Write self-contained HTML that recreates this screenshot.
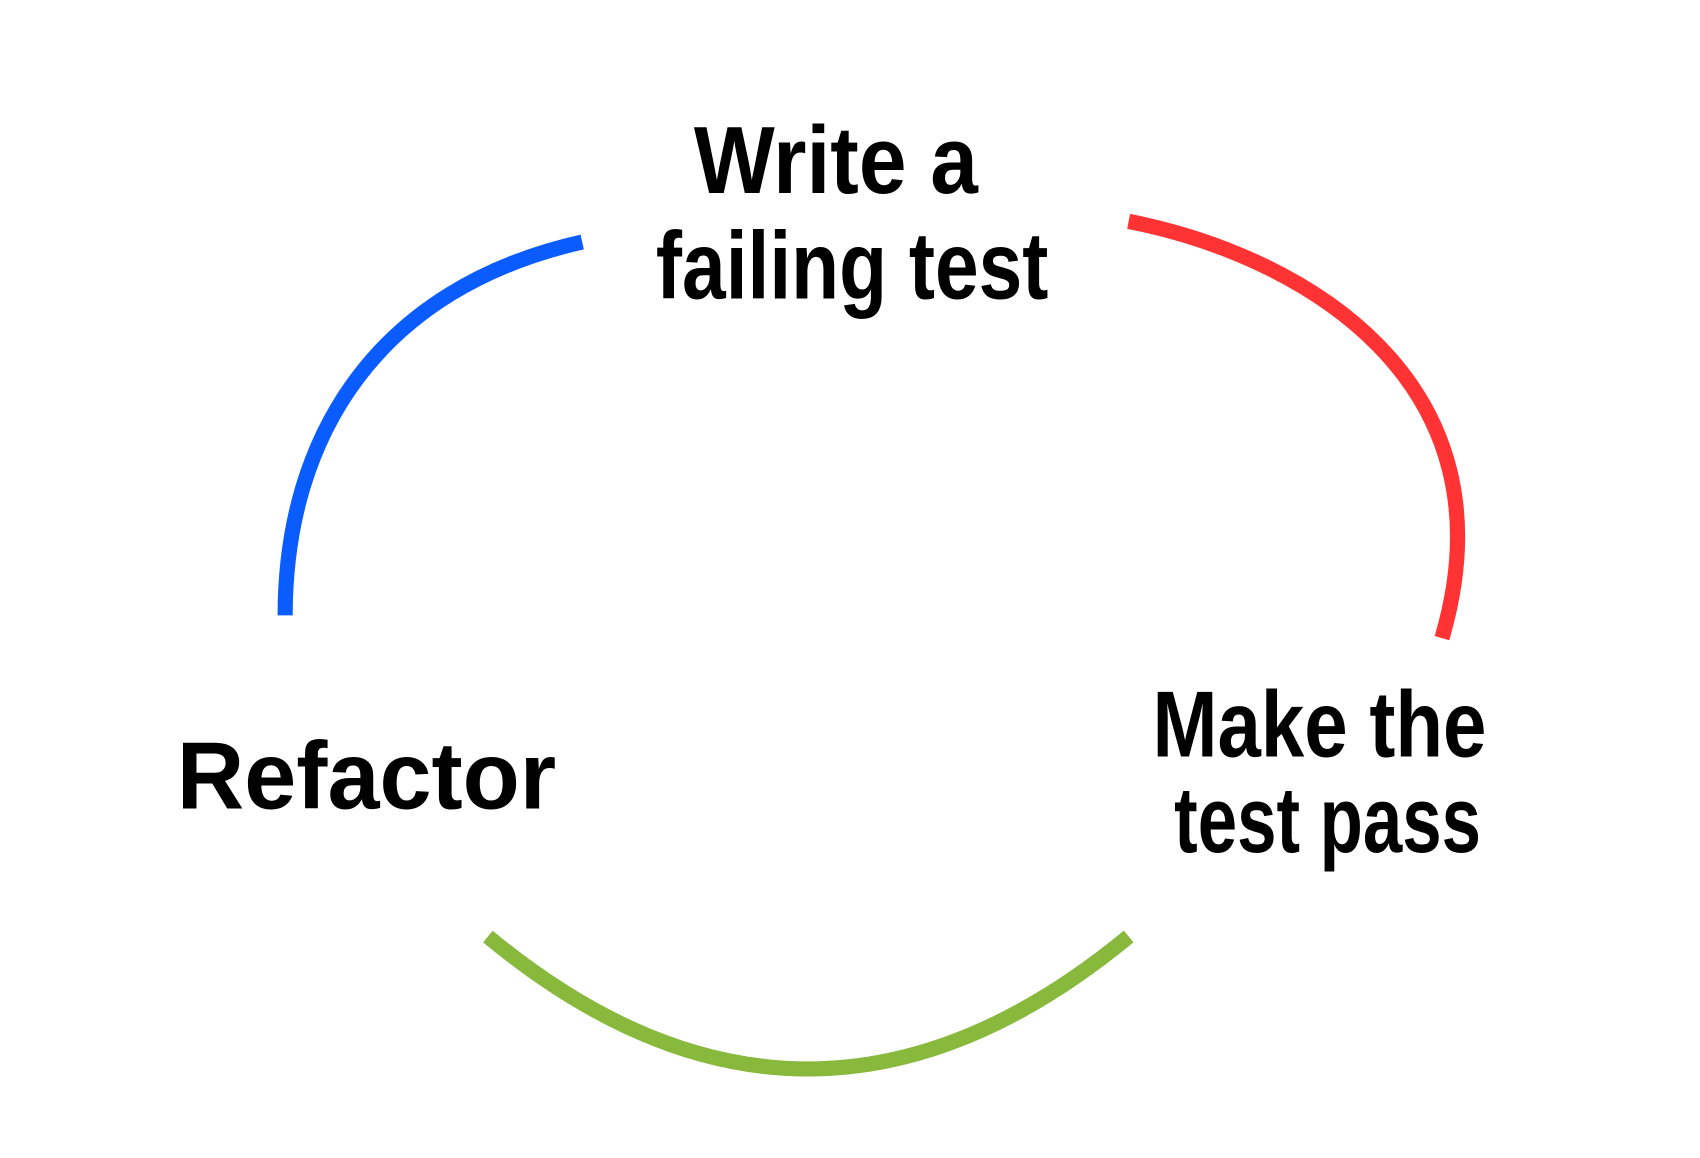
<!DOCTYPE html>
<html><head><meta charset="utf-8"><style>
html,body{margin:0;padding:0;background:#fff;width:1700px;height:1158px;overflow:hidden}
svg{display:block}
text{font-family:"Liberation Sans",sans-serif;font-weight:bold;fill:#000}
</style></head><body>
<svg width="1700" height="1158" viewBox="0 0 1568 1082" preserveAspectRatio="none">
<g transform="scale(1,1.014)">
<path d="M263 567 C263 400 350 265 537 223" fill="none" stroke="#0a5cff" stroke-width="14"/>
<path d="M1041 204 C1200 235 1400 350 1330 588" fill="none" stroke="#ff3333" stroke-width="14"/>
<path d="M450 863 Q745 1107 1041 863" fill="none" stroke="#88b83c" stroke-width="14"/>
<text x="640" y="178" font-size="88" textLength="262" lengthAdjust="spacingAndGlyphs">Write a</text>
<text x="605" y="275" font-size="88" textLength="362" lengthAdjust="spacingAndGlyphs">failing test</text>
<text x="163" y="745" font-size="88" textLength="350" lengthAdjust="spacingAndGlyphs">Refactor</text>
<text x="1063" y="697" font-size="86" textLength="308" lengthAdjust="spacingAndGlyphs">Make the</text>
<text x="1083" y="785" font-size="86" textLength="283" lengthAdjust="spacingAndGlyphs">test pass</text>
</g>
</svg>
</body></html>
